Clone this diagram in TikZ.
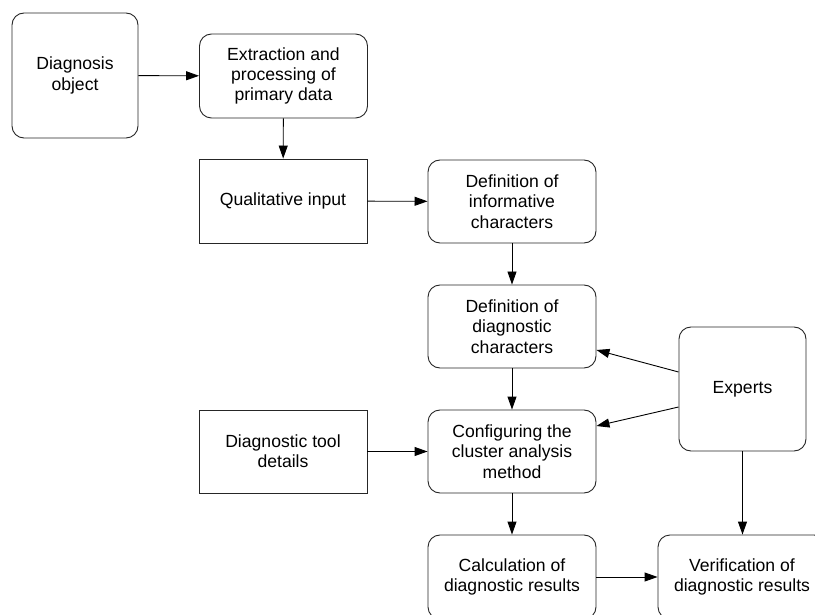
\documentclass[tikz,border=0pt]{standalone}
\usepackage{fontspec}
\setmainfont{Liberation Sans}
\usetikzlibrary{arrows.meta}
\begin{document}
\begin{tikzpicture}[x=1pt,y=-1pt,
  box/.style={draw=black!85,line width=0.9pt,rounded corners=12pt,align=center,inner sep=0pt,
    font=\fontsize{17.6pt}{20.3pt}\selectfont},
  sqbox/.style={box,rounded corners=0pt},
  arr/.style={draw=black,line width=0.9pt,-{Triangle[length=13pt,width=9pt]}}]
\useasboundingbox (0,0) rectangle (815,615);
\clip (0,0) rectangle (815,615);
\node[box,minimum width=126pt,minimum height=125pt] (diag) at (75,75.5) {Diagnosis\\object};
\node[box,minimum width=168pt,minimum height=84pt] (extr) at (283.5,76) {Extraction and\\processing of\\primary data};
\node[sqbox,minimum width=168pt,minimum height=84pt] (qual) at (283,201) {Qualitative input};
\node[box,minimum width=168pt,minimum height=83pt] (info) at (512,201.5) {Definition of\\informative\\characters};
\node[box,minimum width=168pt,minimum height=83pt] (dchar) at (512,326.5) {Definition of\\diagnostic\\characters};
\node[box,minimum width=127pt,minimum height=124pt] (exp) at (742.5,389) {Experts};
\node[sqbox,minimum width=168pt,minimum height=83pt] (tool) at (283,451.5) {Diagnostic tool\\details};
\node[box,minimum width=168pt,minimum height=83pt] (conf) at (512,451.5) {Configuring the\\cluster analysis\\method};
\node[box,minimum width=168pt,minimum height=84pt] (calc) at (512,577) {Calculation of\\diagnostic results};
\node[box,minimum width=168pt,minimum height=84pt] (verif) at (742,577) {Verification of\\diagnostic results};
\draw[arr] (diag) -- (extr);
\draw[arr] (extr) -- (qual);
\draw[arr] (qual) -- (info);
\draw[arr] (info) -- (dchar);
\draw[arr] (dchar) -- (conf);
\draw[arr] ([yshift=17pt]exp.west) -- ([yshift=-23.5pt]dchar.east);
\draw[arr] ([yshift=-18pt]exp.west) -- ([yshift=25.5pt]conf.east);
\draw[arr] (tool) -- (conf);
\draw[arr] (conf) -- (calc);
\draw[arr] (exp.south) -- (exp.south |- verif.north);
\draw[arr] (calc) -- (verif);
\end{tikzpicture}
\end{document}
